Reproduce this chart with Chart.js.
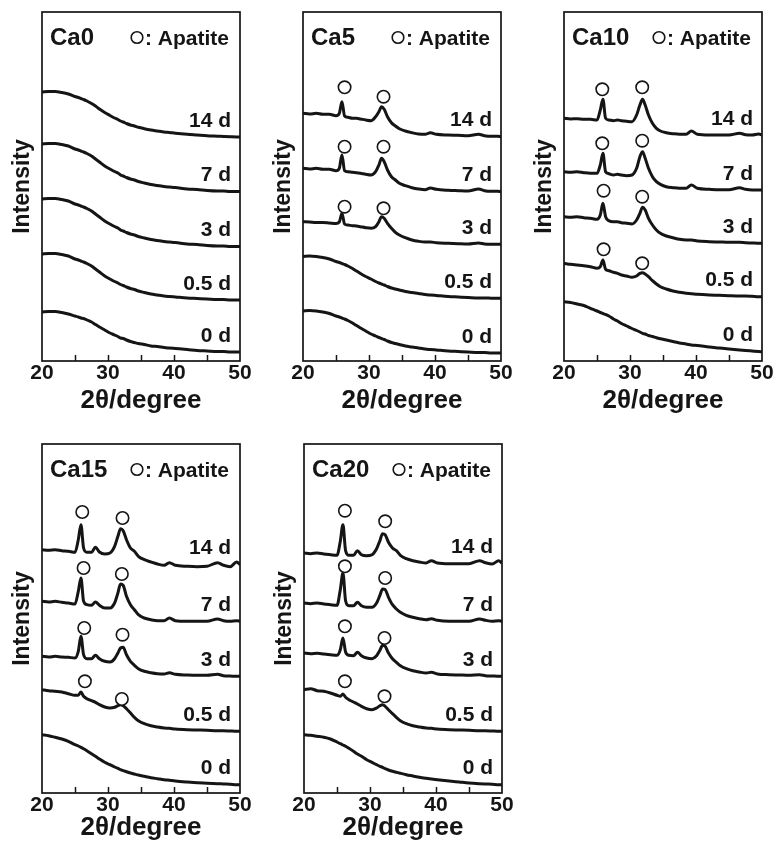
<!DOCTYPE html>
<html><head><meta charset="utf-8"><title>XRD patterns</title>
<script src="https://cdn.jsdelivr.net/npm/chart.js@4.4.1/dist/chart.umd.min.js"></script>
<style>
html,body{margin:0;padding:0;background:#fff;}
body{width:776px;height:845px;position:relative;overflow:hidden;}
.panel{position:absolute;width:254px;height:421px;}
</style></head><body>
<div class="panel" style="left:0px;top:0px"><canvas id="c0"></canvas></div>
<div class="panel" style="left:261px;top:0px"><canvas id="c1"></canvas></div>
<div class="panel" style="left:522px;top:0px"><canvas id="c2"></canvas></div>
<div class="panel" style="left:0px;top:432px"><canvas id="c3"></canvas></div>
<div class="panel" style="left:262px;top:432px"><canvas id="c4"></canvas></div>
<script>
// ---- data (intensity in arbitrary, offset units) ----
const twoTheta = [20,21,22,23,24,25,25.5,25.9,26.3,26.8,27.5,28.1,28.7,29.5,30.3,31,31.5,31.9,32.3,32.8,33.4,34,34.6,35.5,36.5,37.5,38.5,39.3,40.2,42,43.5,45,46.6,47.5,48.5,49.5,50];
const xTickLabels = [20,30,40,50];
const xTickMarks = [25,30,35,40,45];
const dayLabels = ['0 d','0.5 d','3 d','7 d','14 d'];
const sampleNames = ['Ca0','Ca5','Ca10','Ca15','Ca20'];

const ca0_0d  = [49,49.5,49.5,48.5,47,45,44,43,42.5,41,39,36.5,34,31,28,26,24.5,23,22.5,21,19.5,18.5,17.5,16.5,15,14.5,13.5,13,12.5,11.5,10.5,10,9.5,9.5,9,9,9];
const ca0_05d = [107,107.5,107.5,106.5,105,102,101,100,99,97.5,95,92,89,85,82,79.5,78,76.5,75.5,74,72.5,71.5,70,68.5,67,66,65,64.5,64,63,62.5,62,61.5,61.5,61,61,61];
const ca0_3d  = [162,162.5,162.5,161.5,160,157,156,155,154,152.5,150,147,144,140,137,134.5,133,131,130,128.5,127,126,124.5,123,121.5,120.5,119.5,119,118.5,117,116.5,115.5,115,115,114.5,114.5,114.5];
const ca0_7d  = [217,217.5,217.5,216.5,215,212,211,210,209,207.5,205,202,199,195,192,189.5,188,186,185,183.5,182,181,179.5,178,176.5,175.5,174.5,174,173.5,172,171.5,170.5,170,170,169.5,169.5,169.5];
const ca0_14d = [269,269.5,269.5,268.5,267,264.5,263.5,262.5,261.5,260,257.5,255,252,248.5,245.5,243,241.5,240,239,237.5,236,235,233.7,232.3,231,230,229,228.5,227.8,226.7,226,225.3,224.8,224.5,224.2,224,224];
const ca0_apatiteX = [];
const ca0_apatiteY = [];

const ca5_0d  = [50,50.5,50,49,47.5,45,44,43,42,40.5,38,35.5,33,30,27,25,23.5,22.5,21.5,20,18.5,17.5,16.5,15,14,13,12,11.5,11,10,9.5,9,8.5,8.5,8,8,8];
const ca5_05d = [104.5,105,104.5,103.5,102,99.5,98.5,97.5,96.5,95,92.5,90,87.5,84.5,82,79.5,78,77,76,74.5,73,72,71,69.5,68.5,67.5,66.5,66,65.5,64.5,64,63.5,63,63,62.8,62.7,62.7];
const ca5_3d  = [139.3,139,138.5,138.5,138,137.5,139,147.7,137,136,135.3,135,134.3,133.3,132.7,134.3,139.3,144.3,142.7,137.7,132.7,128.7,126,123.3,121,119.7,119,119,118.3,117.7,117.3,117,118,117,116.7,116.7,116.7];
const ca5_7d  = [192.7,192,192.7,191.7,191.7,190.3,192.7,206,190.3,189.3,188.7,188.3,187.7,186.7,186,189.3,196,202.7,199.3,191,184.3,181,177.7,175.3,173.3,172,171.3,173,171.7,170.7,170.3,170,172,170.3,169.7,169.7,169.3];
const ca5_14d = [247.7,247,247.7,246.7,246.7,245.3,247.7,259.3,245,243.7,242.7,242.7,242,241,240.3,244.3,249.3,254.3,251.7,244.3,238.3,235,232.3,230,228.3,227,226.7,228.3,226.7,226,225.7,225.3,226.7,225.3,224.7,224.7,224.3];
const ca5_apatiteX = [26.3,32.2,26.3,32.2,26.3,32.2];
const ca5_apatiteY = [273.7,264.3,214.3,214.3,154.3,152.7];

const ca10_0d  = [59.3,58.5,57,55.5,52.7,50,48.5,47.5,46.5,45,42,40,37.5,35,32.5,30.5,29,27.7,27,25.5,24.5,23.3,22.3,21,19.5,18,17,16,15.5,14,13,12,11,10.5,10,9.5,9.3];
const ca10_05d = [97.7,96.7,96,95.3,94.3,92.7,94.3,101,91.7,90.3,88.7,87.7,86,85,83.7,85,87.7,88.3,87,84.3,80.3,77,74.3,72,70,68.7,67.7,67.3,66.7,66,65.7,65.3,65,65,64.7,64.3,64.3];
const ca10_3d  = [144.3,143.7,144.3,143.3,142.7,141.7,146,157.7,144.3,140.3,139.3,139.3,138.3,137.7,137,141,147.7,153.7,151,142.7,136,131,127.7,125,123.3,121.7,121,121,120,119.3,119,118.7,118.7,118.3,118,117.7,117.7];
const ca10_7d  = [189.3,188.7,189.3,188.3,187.7,187.7,196,207.7,189.3,187.3,186,186.7,186,185.3,186,192.7,204.3,209.3,202.7,192.7,184.3,179.3,176.7,174.3,173.3,172.7,172.7,176,172.7,171.7,171.3,171.3,173.3,171.7,171,171,171];
const ca10_14d = [242.7,242,242.3,241.7,241.7,241,251,261.7,242.7,241,240.3,241,240.3,239.7,239.3,246,256,261.7,256,246,237.7,232.7,230,228.3,227.3,226.7,226.7,230,226.7,226,226,226,227.7,226.3,226,227,226];
const ca10_apatiteX = [25.8,31.85,25.8,31.85,26.0,31.85,26.0,31.85];
const ca10_apatiteY = [271.7,273.7,217.7,220.3,170.3,164.3,111.7,97.7];

const ca15_0d  = [58.3,57.3,55.7,54,51.7,48.3,47,45.7,44.3,42.3,39.3,36.7,34,30.7,28.3,26,24.7,23.3,22.3,21.3,20,19,18,16.7,15.3,14.3,13.3,12.7,12,11,10.3,9.7,9.3,9,8.7,8.3,8.3];
const ca15_05d = [103.3,102.3,101.7,101,99.3,97.7,97.7,101,96.7,94.3,92.3,90.7,88.3,86,85,85.7,87.3,88.3,87.3,84.3,80,75.7,72.3,69.3,67.3,66,65,64.7,64,63.3,63,62.7,62.3,62.3,62,61.7,61.7];
const ca15_3d  = [136.7,136,136.7,136,135.7,135,141.7,156.7,138.3,134.3,134.3,137.7,134.3,131.7,131,134.3,140,145,145.7,138.3,131.7,127.7,124.3,121.7,120.3,119.3,119,120.3,118.7,118,117.7,117.7,118.7,117.3,117,116.7,116.7];
const ca15_7d  = [191.7,191,191.7,190.7,190,189,201.7,215,191.7,188.3,187.7,191,187.7,185,185,190,200,209,207.7,196.7,188.3,183.3,178.3,175,173.3,172.3,172.3,175,172.3,171.7,171.7,171.7,174,172.3,171.7,172.3,171.7];
const ca15_14d = [243.3,242.7,243.3,242.3,241.7,240.7,253.3,268.3,245,240.7,240.7,245.7,241,239,240,246.7,256.7,264.3,262.3,253.3,245,241.7,236.7,233.3,231,229,227.7,230.3,227.7,226.7,226.3,226.7,230.3,227.7,226.3,231,228.3];
const ca15_apatiteX = [26.1,32.2,26.3,32.1,26.4,32.2,26.5,32.1];
const ca15_apatiteY = [281,275,225,219,165,158.3,111.7,94];

const ca20_0d  = [58.3,57.7,56.7,55.7,54,51,49.3,48,46.7,44.7,41.7,39,36.7,33.3,30.7,28.3,26.7,25.7,24.3,23,21.7,20.7,19.7,18.3,17,15.7,14.7,14,13.3,12,11,10,9.3,9,8.7,8.3,8.3];
const ca20_05d = [103.3,104.3,102.3,101.7,100,97.7,96.7,99,95.7,93.3,91,89,86.7,84.3,83.3,85,87.3,88.3,86.7,83.3,79.3,75.7,72.3,69.3,67.3,66,65,64.7,64,63.3,63,62.7,62.3,62.3,62,61.7,61.7];
const ca20_3d  = [140,139.3,139.7,139,138.3,137.7,143.3,155,141,137.7,137.3,140.7,137.3,135,134.3,137.3,142.7,147.7,146.7,140,134.3,130.7,127.3,124.3,122.3,121,120,120.7,119,118.3,118,117.7,118.3,117.3,117,116.7,116.7];
const ca20_7d  = [190,189.3,190,189,188.3,187.7,203.3,220,192.3,187.3,187.3,190.7,187.3,185.7,185.7,190,197.7,204,203.3,195.7,188.3,184,180.7,177.7,175.7,174.3,173.3,174.3,172.7,171.7,171.7,171.7,174,172.7,171.7,172.3,171.7];
const ca20_14d = [240,239.3,240,239,238.3,237.7,251.7,268.3,242.3,237.7,237.7,242.3,238.3,237.3,238.3,244.3,252.3,259.3,258.3,250.7,245,242.3,237.7,234.3,232.3,231,230,232.3,230,229.3,229.3,229.3,232.3,230.3,229,232.3,230];
const ca20_apatiteX = [26.2,32.3,26.2,32.3,26.2,32.2,26.2,32.2];
const ca20_apatiteY = [282.3,271.7,226.7,215,166.7,155,111.7,96.7];

// ---- build ----
const panels = [
  {canvas:'c0', series:[ca0_0d,ca0_05d,ca0_3d,ca0_7d,ca0_14d], apX:ca0_apatiteX, apY:ca0_apatiteY, titlePad:5},
  {canvas:'c1', series:[ca5_0d,ca5_05d,ca5_3d,ca5_7d,ca5_14d], apX:ca5_apatiteX, apY:ca5_apatiteY, titlePad:5},
  {canvas:'c2', series:[ca10_0d,ca10_05d,ca10_3d,ca10_7d,ca10_14d], apX:ca10_apatiteX, apY:ca10_apatiteY, titlePad:5},
  {canvas:'c3', series:[ca15_0d,ca15_05d,ca15_3d,ca15_7d,ca15_14d], apX:ca15_apatiteX, apY:ca15_apatiteY, titlePad:10},
  {canvas:'c4', series:[ca20_0d,ca20_05d,ca20_3d,ca20_7d,ca20_14d], apX:ca20_apatiteX, apY:ca20_apatiteY, titlePad:10}
];

const FONT = '"Liberation Sans", Arial, Helvetica, sans-serif';
const INK = '#151515';
Chart.defaults.font.family = FONT;
Chart.defaults.color = INK;

const decor = {
  id: 'decor',
  afterDraw(chart) {
    const {ctx, chartArea: a, scales: {x}} = chart;
    const name = chart.options.plugins.decor.name;
    ctx.save();
    ctx.strokeStyle = INK;
    ctx.lineWidth = 1.7;
    ctx.strokeRect(a.left, a.top, a.right - a.left, a.bottom - a.top);
    ctx.lineWidth = 1.5;
    xTickMarks.forEach(v => {
      const px = Math.round(x.getPixelForValue(v)) + 0.5;
      ctx.beginPath(); ctx.moveTo(px, a.bottom); ctx.lineTo(px, a.bottom - 6); ctx.stroke();
    });
    ctx.fillStyle = INK;
    ctx.textBaseline = 'alphabetic';
    ctx.textAlign = 'left';
    ctx.font = 'bold 24px ' + FONT;
    ctx.fillText(name, a.left + 8, a.top + 33);
    ctx.font = 'bold 21px ' + FONT;
    ctx.textAlign = 'right';
    const legendText = ': Apatite';
    const tx = a.right - 11;
    ctx.fillText(legendText, tx, a.top + 33);
    const w = ctx.measureText(legendText).width;
    ctx.beginPath();
    ctx.lineWidth = 1.6;
    ctx.arc(tx - w - 8, a.top + 25.5, 5.8, 0, Math.PI * 2);
    ctx.stroke();
    ctx.font = 'bold 21px ' + FONT;
    ctx.textBaseline = 'middle';
    chart.data.datasets.forEach((ds, i) => {
      if (!ds.dayLabel) return;
      const pts = chart.getDatasetMeta(i).data;
      const last = pts[pts.length - 1];
      ctx.fillText(ds.dayLabel, a.right - 9, last.y - 16);
    });
    ctx.restore();
  }
};

panels.forEach((p, k) => {
  const datasets = p.series.map((s, i) => ({
    type: 'line',
    dayLabel: dayLabels[i],
    data: twoTheta.map((t, j) => ({x: t, y: s[j]})),
    borderColor: INK,
    borderWidth: 3,
    pointRadius: 0,
    cubicInterpolationMode: 'monotone',
    fill: false,
    order: 2
  }));
  datasets.push({
    type: 'scatter',
    data: p.apX.map((t, j) => ({x: t, y: p.apY[j]})),
    pointStyle: 'circle',
    pointRadius: 6.2,
    pointBackgroundColor: '#ffffff',
    pointBorderColor: INK,
    pointBorderWidth: 1.6,
    showLine: false,
    order: 0
  });
  new Chart(document.getElementById(p.canvas), {
    type: 'line',
    data: {datasets},
    plugins: [decor],
    options: {
      responsive: true,
      maintainAspectRatio: false,
      animation: false,
      events: [],
      layout: {padding: {top: 12, right: 14, left: 0, bottom: 0}},
      plugins: {
        legend: {display: false},
        tooltip: {enabled: false},
        decor: {name: sampleNames[k]}
      },
      scales: {
        x: {
          type: 'linear', min: 20, max: 50,
          afterFit: s => { s.height = 60; },
          grid: {display: false, drawTicks: false},
          border: {display: false},
          ticks: {
            stepSize: 10, autoSkip: false, maxRotation: 0, padding: 0,
            color: INK, font: {size: 21, weight: 'bold'},
            callback: v => xTickLabels.includes(v) ? String(v) : ''
          },
          title: {display: true, text: '2θ/degree', color: INK,
                  font: {size: 26, weight: 'bold'}, padding: {top: 0, bottom: p.titlePad}}
        },
        y: {
          min: 0, max: 349,
          afterFit: s => { s.width = 42; },
          grid: {display: false, drawTicks: false},
          border: {display: false},
          ticks: {display: false},
          title: {display: true, text: 'Intensity', color: INK,
                  font: {size: 23, weight: 'bold'}, padding: {top: 9, bottom: 0}}
        }
      }
    }
  });
});
</script>
</body></html>
